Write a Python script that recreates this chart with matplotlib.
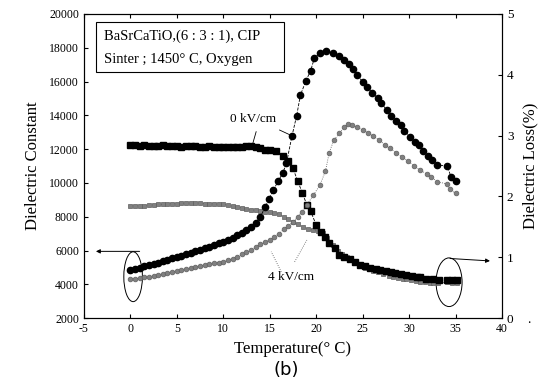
import matplotlib.pyplot as plt
from matplotlib.patches import Ellipse, Rectangle

plt.rcParams['font.family'] = ['Liberation Serif', 'DejaVu Serif']
plt.rcParams['axes.unicode_minus'] = False

# dielectric constant, 0 kV/cm (black circles)
t_dc0 = [0, 0.5, 1, 1.5, 2, 2.5, 3, 3.5, 4, 4.5, 5, 5.5, 6, 6.5, 7, 7.5, 8, 8.5, 9, 9.5,
         10, 10.5, 11, 11.5, 12, 12.5, 13, 13.5, 14, 14.5, 14.9, 15.4, 15.9, 16.4, 16.8,
         17.4, 17.9, 18.3, 18.9, 19.4, 19.8, 20.4, 21.1, 21.8, 22.5, 23.0, 23.5, 24.0,
         24.4, 25.0, 25.5, 26.0, 26.6, 27.0, 27.6, 28.0, 28.6, 29.1, 29.5, 30.1, 30.6,
         31.1, 31.5, 32.0, 32.5, 33.0, 34.1, 34.5, 35.0]
dc0 = [4850, 4920, 4990, 5060, 5130, 5200, 5280, 5360, 5440, 5530, 5620, 5700, 5780, 5860,
       5950, 6040, 6130, 6220, 6320, 6420, 6520, 6640, 6770, 6910, 7060, 7220, 7390, 7620,
       8000, 8550, 9030, 9580, 10100, 10580, 11170, 12790, 13980, 15190, 16050, 16640,
       17370, 17700, 17830, 17700, 17510, 17270, 17020, 16740, 16390, 15990, 15700, 15340,
       15040, 14710, 14320, 13960, 13680, 13430, 13090, 12730, 12440, 12240, 11900, 11610,
       11350, 11060, 11000, 10370, 10130]

# dielectric constant, 4 kV/cm (grey circles)
t_dc4 = [0, 0.5, 1, 1.5, 2, 2.5, 3, 3.5, 4, 4.5, 5, 5.5, 6, 6.5, 7, 7.5, 8, 8.5, 9, 9.5,
         10, 10.5, 11, 11.5, 12, 12.5, 13, 13.5, 14, 14.5, 15, 15.5, 16, 16.5, 17, 17.5,
         18, 18.5, 19, 19.7, 20.4, 21.0, 21.4, 21.9, 22.5, 23.0, 23.4, 23.9, 24.4, 25.0,
         25.6, 26.1, 26.8, 27.4, 27.9, 28.6, 29.2, 29.9, 30.5, 31.2, 31.9, 32.4, 33.0,
         34.1, 34.4, 35.0]
dc4 = [4290, 4330, 4370, 4410, 4450, 4500, 4550, 4600, 4650, 4720, 4800, 4850, 4900, 4950,
       5010, 5070, 5130, 5190, 5250, 5290, 5330, 5420, 5520, 5640, 5770, 5900, 6030, 6200,
       6380, 6500, 6620, 6800, 7000, 7250, 7450, 7700, 8000, 8300, 8700, 9280, 9870,
       10700, 11790, 12540, 12930, 13290, 13470, 13430, 13290, 13130, 12970, 12780, 12540,
       12240, 12050, 11790, 11550, 11300, 11000, 10760, 10530, 10370, 10070, 9940, 9620,
       9380]

# dielectric loss (%), 0 kV/cm (black squares)
t_dl0 = [0, 0.5, 1, 1.5, 2, 2.5, 3, 3.5, 4, 4.5, 5, 5.5, 6, 6.5, 7, 7.5, 8, 8.5, 9, 9.5,
         10, 10.5, 11, 11.5, 12, 12.5, 13, 13.5, 14, 14.5, 15, 15.7, 16.4, 17.0, 17.5,
         18.0, 18.5, 19.0, 19.4, 20.0, 20.5, 20.9, 21.4, 22.0, 22.5, 23.0, 23.6, 24.2,
         24.7, 25.3, 25.8, 26.4, 26.9, 27.5, 28.0, 28.5, 29.1, 29.7, 30.3, 30.8, 31.2,
         31.8, 32.6, 33.2, 34.1, 34.6, 35.1]
dl0 = [2.84, 2.85, 2.83, 2.84, 2.83, 2.83, 2.83, 2.84, 2.83, 2.83, 2.83, 2.82, 2.83, 2.83,
       2.83, 2.82, 2.82, 2.83, 2.82, 2.82, 2.82, 2.82, 2.82, 2.82, 2.82, 2.83, 2.83, 2.81,
       2.79, 2.77, 2.76, 2.74, 2.66, 2.59, 2.46, 2.26, 2.06, 1.86, 1.76, 1.53, 1.42, 1.33,
       1.23, 1.15, 1.04, 1.00, 0.97, 0.92, 0.87, 0.85, 0.83, 0.81, 0.79, 0.77, 0.76, 0.74,
       0.73, 0.71, 0.69, 0.68, 0.67, 0.65, 0.64, 0.63, 0.62, 0.62, 0.62]

# dielectric loss (%), 4 kV/cm (grey squares)
t_dl4 = [0, 0.5, 1, 1.5, 2, 2.5, 3, 3.5, 4, 4.5, 5, 5.5, 6, 6.5, 7, 7.5, 8, 8.5, 9, 9.5,
         10, 10.5, 11, 11.5, 12, 12.5, 13, 13.5, 14, 14.5, 15, 15.5, 16, 16.5, 17, 17.5,
         18, 18.6, 19.1, 19.7, 20.2, 20.7, 21.2, 21.8, 22.3, 22.8, 23.3, 23.8, 24.2, 24.7,
         25.2, 25.7, 26.1, 26.6, 27.2, 27.8, 28.3, 28.8, 29.3, 29.7, 30.2, 30.7, 31.2,
         31.7, 32.2, 32.6, 33.1, 34.1, 34.6, 35.1]
dl4 = [1.85, 1.84, 1.85, 1.85, 1.86, 1.86, 1.87, 1.87, 1.88, 1.88, 1.88, 1.89, 1.89, 1.89,
       1.89, 1.89, 1.88, 1.88, 1.88, 1.87, 1.87, 1.86, 1.84, 1.83, 1.81, 1.80, 1.78, 1.77,
       1.76, 1.75, 1.74, 1.72, 1.71, 1.67, 1.63, 1.58, 1.54, 1.50, 1.47, 1.45, 1.43, 1.40,
       1.32, 1.20, 1.11, 1.06, 1.01, 0.95, 0.91, 0.87, 0.83, 0.80, 0.78, 0.75, 0.72, 0.70,
       0.68, 0.66, 0.65, 0.64, 0.63, 0.61, 0.60, 0.59, 0.58, 0.57, 0.57, 0.60, 0.58, 0.58]

x_ticks = [-5, 0, 5, 10, 15, 20, 25, 30, 35, 40]
y_ticks = [2000, 4000, 6000, 8000, 10000, 12000, 14000, 16000, 18000, 20000]
y2_ticks = [0, 1, 2, 3, 4, 5]

fig = plt.figure(figsize=(5.41, 3.87), dpi=100)
ax = fig.add_axes([0.155, 0.178, 0.773, 0.786])
ax2 = ax.twinx()

grey = '#808080'
ax2.plot(t_dl4, dl4, ls=':', lw=0.6, color='#555555', marker='s', ms=3.4,
         mfc=grey, mec='#5e5e5e', mew=0.5)
ax2.plot(t_dl0, dl0, ls='--', lw=0.6, color='black', marker='s', ms=4.0,
         mfc='black', mec='black')
ax.plot(t_dc4, dc4, ls=':', lw=0.6, color='#555555', marker='o', ms=3.4,
        mfc=grey, mec='#5e5e5e', mew=0.5, zorder=3)
ax.plot(t_dc0, dc0, ls='--', lw=0.6, color='black', marker='o', ms=4.5,
        mfc='black', mec='black', zorder=4)
ax.set_zorder(ax2.get_zorder() + 1)
ax.patch.set_visible(False)

ax.set_xlim(-5, 40)
ax.set_ylim(2000, 20000)
ax2.set_ylim(0, 5)
ax.set_xticks(x_ticks)
ax.set_yticks(y_ticks)
ax2.set_yticks(y2_ticks)
ax.tick_params(direction='in', length=3, labelsize=8.5, top=True)
ax2.tick_params(direction='in', length=3, labelsize=9.5)

ax.set_xlabel('Temperature(° C)', fontsize=12, labelpad=4)
ax.set_ylabel('Dielectric Constant', fontsize=12, labelpad=6)
ax2.set_ylabel('Dielectric Loss(%)', fontsize=12, labelpad=6)

# info box
ax.add_patch(Rectangle((0.029, 0.809), 0.449, 0.165, transform=ax.transAxes,
                       fill=False, lw=0.8, ec='black', zorder=5))
ax.text(0.048, 0.928, 'BaSrCaTiO,(6 : 3 : 1), CIP', transform=ax.transAxes,
        fontsize=10.5, va='center', ha='left')
ax.text(0.048, 0.849, 'Sinter ; 1450° C, Oxygen', transform=ax.transAxes,
        fontsize=10.5, va='center', ha='left')

# field labels with leader lines
ax.text(13.25, 13780, '0 kV/cm', fontsize=9.5, ha='center', va='center')
ax.plot([13.54, 13.18], [13030, 12340], color='black', lw=0.6)
ax.plot([16.06, 17.43], [13130, 12780], color='black', lw=0.6)
ax.text(17.25, 4430, '4 kV/cm', fontsize=9.5, ha='center', va='center')
ax.plot([16.24, 15.16], [4740, 5930], color='#555555', lw=0.6, ls=':')
ax.plot([17.68, 19.0], [5330, 6620], color='#555555', lw=0.6, ls=':')

# ellipses pointing to their axes
ax.add_patch(Ellipse((0.3, 4450), 2.0, 2950, fill=False, lw=0.7, ec='black'))
ax.annotate('', xy=(-3.7, 5950), xytext=(1.0, 5950),
            arrowprops=dict(arrowstyle='-|>', lw=0.7, color='black',
                            mutation_scale=6, shrinkA=0, shrinkB=0))
ax2.add_patch(Ellipse((34.3, 0.59), 2.8, 0.8, fill=False, lw=0.7, ec='black'))
ax2.annotate('', xy=(38.7, 0.94), xytext=(34.4, 0.98),
             arrowprops=dict(arrowstyle='-|>', lw=0.7, color='black',
                             mutation_scale=6, shrinkA=0, shrinkB=0))

fig.text(0.53, 0.03, '(b)', fontsize=13, family='DejaVu Sans', ha='center')
fig.text(0.975, 0.165, '.', fontsize=10)

plt.savefig('out.png', dpi=100)
